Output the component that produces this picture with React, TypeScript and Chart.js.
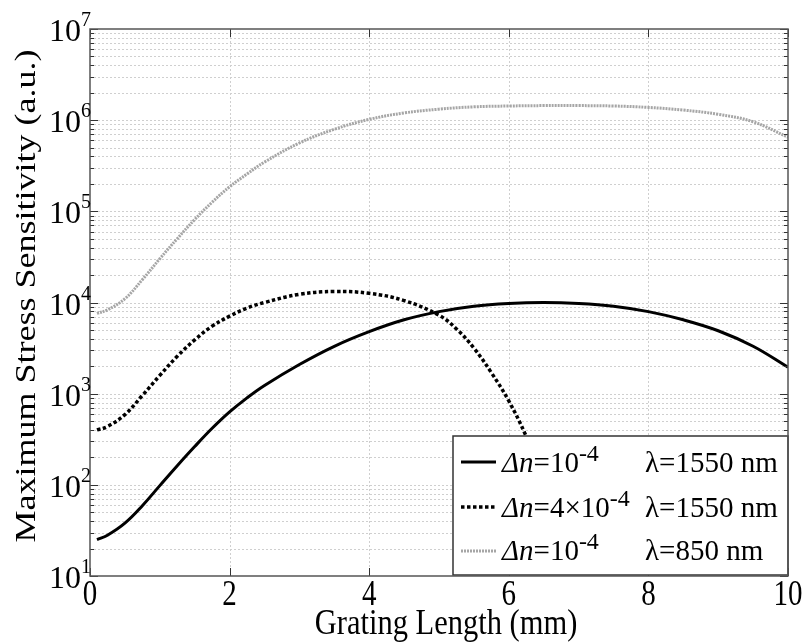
import { useEffect, useRef } from "react";
import { Chart, registerables } from "chart.js";

Chart.register(...registerables);

// ---- Data ----
const solidX = [0.1, 0.25, 0.5, 0.75, 1, 1.25, 1.5, 1.75, 2, 2.25, 2.5, 3, 3.5, 4, 4.5, 5, 5.5, 6, 6.5, 7, 7.5, 8, 8.5, 9, 9.5, 10];
const solidY = [25, 28, 38, 59, 98, 162, 263, 417, 631, 900, 1230, 2090, 3310, 4790, 6460, 7940, 9120, 9770, 10000, 9770, 9120, 7940, 6460, 4900, 3310, 1950];

const dotX = [0.1, 0.25, 0.5, 0.75, 1, 1.25, 1.5, 1.75, 2, 2.25, 2.5, 3, 3.5, 4, 4.5, 5, 5.25, 5.5, 5.75, 6, 6.25, 6.5, 6.75];
const dotY = [400, 436, 589, 955, 1585, 2570, 3890, 5500, 7080, 8700, 10000, 12300, 13200, 12600, 10500, 7240, 5130, 3160, 1700, 832, 339, 112, 28];

const grayX = [0.1, 0.25, 0.5, 0.75, 1, 1.25, 1.5, 1.75, 2, 2.25, 2.5, 3, 3.5, 4, 4.5, 5, 5.5, 6, 6.5, 7, 7.5, 8, 8.5, 9, 9.5, 10];
const grayY = [7600, 8300, 11000, 17800, 30200, 50100, 81300, 126000, 186000, 257000, 347000, 562000, 794000, 1020000, 1200000, 1320000, 1400000, 1430000, 1445000, 1445000, 1430000, 1380000, 1290000, 1160000, 960000, 650000];

const xTickValues = [0, 2, 4, 6, 8, 10];
const yExponents = [1, 2, 3, 4, 5, 6, 7];
const yMinorMults = [2, 3, 4, 5, 6, 7, 8, 9];

const xTitle = "Grating Length (mm)";
const yTitle = "Maximum Stress Sensitivity (a.u.)";
const legendMult = ["", "4×", ""];
const legendExp = ["-4", "-4", "-4"];
const legendLambda = ["1550 nm", "1550 nm", "850 nm"];

const FONT = "'Liberation Serif', 'Times New Roman', serif";

const styles = [
  { color: "#000000", width: 3, dash: [] as number[] },
  { color: "#000000", width: 3.5, dash: [3.5, 2.5] },
  { color: "#a6a6a6", width: 3, dash: [2, 1] },
];

function pts(xs: number[], ys: number[]) {
  return xs.map((x, i) => ({ x, y: ys[i] }));
}

function txt(ctx: CanvasRenderingContext2D, s: string, x: number, y: number, font: string, align: CanvasTextAlign, sy = 1) {
  ctx.save();
  ctx.translate(x, y);
  ctx.scale(1, sy);
  ctx.font = font;
  ctx.textAlign = align;
  ctx.textBaseline = "alphabetic";
  ctx.fillStyle = "#000";
  ctx.fillText(s, 0, 0);
  ctx.restore();
}

const framePlugin = {
  id: "matlabFrame",
  beforeDatasetsDraw(chart: any) {
    const { ctx, chartArea: a, scales } = chart;
    const xs = scales.x, ys = scales.y;
    ctx.save();
    ctx.strokeStyle = "#cfcfcf";
    ctx.lineWidth = 1;
    ctx.setLineDash([2, 2]);
    ctx.beginPath();
    for (const v of xTickValues) {
      const px = Math.round(xs.getPixelForValue(v)) + 0.5;
      if (px <= a.left + 1 || px >= a.right - 1) continue;
      ctx.moveTo(px, a.top);
      ctx.lineTo(px, a.bottom);
    }
    for (const e of yExponents) {
      const vals = [Math.pow(10, e), ...yMinorMults.map((m) => m * Math.pow(10, e))];
      for (const v of vals) {
        const py = Math.round(ys.getPixelForValue(v)) + 0.5;
        if (py <= a.top + 1 || py >= a.bottom - 1) continue;
        ctx.moveTo(a.left, py);
        ctx.lineTo(a.right, py);
      }
    }
    ctx.stroke();
    ctx.restore();
  },
  afterDatasetsDraw(chart: any) {
    const { ctx, chartArea: a, scales } = chart;
    const xs = scales.x, ys = scales.y;
    ctx.save();
    // ticks
    ctx.strokeStyle = "#333";
    ctx.lineWidth = 1;
    ctx.setLineDash([]);
    ctx.beginPath();
    for (const v of xTickValues) {
      const px = Math.round(xs.getPixelForValue(v)) + 0.5;
      ctx.moveTo(px, a.bottom);
      ctx.lineTo(px, a.bottom - 8);
      ctx.moveTo(px, a.top);
      ctx.lineTo(px, a.top + 8);
    }
    for (const e of yExponents) {
      const major = Math.pow(10, e);
      const py = Math.round(ys.getPixelForValue(major)) + 0.5;
      ctx.moveTo(a.left, py); ctx.lineTo(a.left + 8, py);
      ctx.moveTo(a.right, py); ctx.lineTo(a.right - 8, py);
      if (e < 7) {
        for (const m of yMinorMults) {
          const q = Math.round(ys.getPixelForValue(m * major)) + 0.5;
          ctx.moveTo(a.left, q); ctx.lineTo(a.left + 4, q);
          ctx.moveTo(a.right, q); ctx.lineTo(a.right - 4, q);
        }
      }
    }
    ctx.stroke();

    // legend box
    const L = { x: 453, y: 436, w: 335, h: 139 };
    ctx.fillStyle = "#fff";
    ctx.fillRect(L.x, L.y, L.w, L.h);
    ctx.strokeStyle = "#333";
    ctx.lineWidth = 1.5;
    ctx.strokeRect(L.x, L.y, L.w, L.h);
    const rowSample = [462, 507, 551];
    const rowBase = [472, 517, 560];
    for (let i = 0; i < 3; i++) {
      const st = styles[i];
      ctx.save();
      ctx.strokeStyle = st.color;
      ctx.lineWidth = st.width;
      ctx.setLineDash(st.dash);
      ctx.beginPath();
      ctx.moveTo(461, rowSample[i]);
      ctx.lineTo(496, rowSample[i]);
      ctx.stroke();
      ctx.restore();
      let x = 502;
      const b = rowBase[i];
      const fIt = `italic 29px ${FONT}`;
      const fN = `29px ${FONT}`;
      const fS = `24px ${FONT}`;
      txt(ctx, "Δn", x, b, fIt, "left");
      ctx.font = fIt; x += ctx.measureText("Δn").width;
      const mid = "=" + legendMult[i] + "10";
      txt(ctx, mid, x, b, fN, "left");
      ctx.font = fN; x += ctx.measureText(mid).width;
      txt(ctx, legendExp[i], x, b - 11, fS, "left");
      txt(ctx, "λ=" + legendLambda[i], 645, b, fN, "left");
    }

    // frame
    ctx.strokeStyle = "#555";
    ctx.lineWidth = 1.5;
    ctx.setLineDash([]);
    ctx.strokeRect(a.left, a.top, a.right - a.left, a.bottom - a.top);

    // x tick labels
    for (const v of xTickValues) {
      const px = xs.getPixelForValue(v);
      txt(ctx, String(v), px, 605, `29px ${FONT}`, "center", 1.2);
    }
    // y tick labels
    for (const e of yExponents) {
      const py = ys.getPixelForValue(Math.pow(10, e));
      txt(ctx, "10", 81, py + 12, `32px ${FONT}`, "right");
      txt(ctx, String(e), 81, py - 3, `20px ${FONT}`, "left");
    }
    // titles
    txt(ctx, xTitle, 446, 634, `30.5px ${FONT}`, "center", 1.15);
    ctx.save();
    ctx.translate(35, 296);
    ctx.scale(1, 1.2);
    ctx.rotate(-Math.PI / 2);
    ctx.font = `30px ${FONT}`;
    ctx.textAlign = "center";
    ctx.textBaseline = "alphabetic";
    ctx.fillStyle = "#000";
    ctx.fillText(yTitle, 0, 0);
    ctx.restore();

    ctx.restore();
  },
};

export default function App() {
  const ref = useRef<HTMLCanvasElement>(null);
  useEffect(() => {
    document.body.style.margin = "0";
    const chart = new Chart(ref.current!, {
      type: "line",
      data: {
        datasets: [
          { label: "Δn=1e-4 λ=1550", data: pts(solidX, solidY) },
          { label: "Δn=4e-4 λ=1550", data: pts(dotX, dotY) },
          { label: "Δn=1e-4 λ=850", data: pts(grayX, grayY) },
        ].map((d, i) => ({
          ...d,
          borderColor: styles[i].color,
          borderWidth: styles[i].width,
          borderDash: styles[i].dash,
          pointRadius: 0,
          fill: false,
          tension: 0.4,
        })),
      },
      options: {
        responsive: false,
        animation: false,
        devicePixelRatio: 1,
        layout: { padding: { left: 90, right: 17, top: 29, bottom: 68 } },
        scales: {
          x: { type: "linear", min: 0, max: 10, display: false },
          y: { type: "logarithmic", min: 10, max: 1e7, display: false },
        },
        plugins: { legend: { display: false }, tooltip: { enabled: false } },
      },
      plugins: [framePlugin],
    } as any);
    return () => chart.destroy();
  }, []);
  return <canvas ref={ref} width={805} height={644} style={{ display: "block" }} />;
}
